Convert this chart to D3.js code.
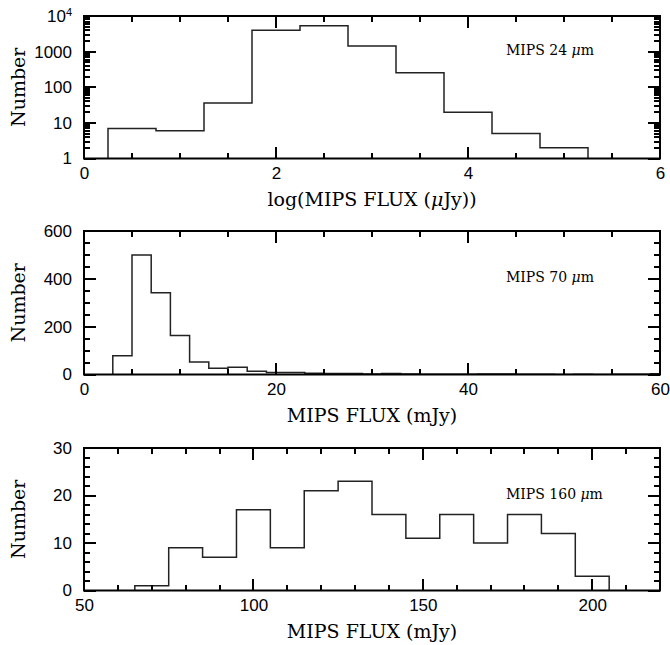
<!DOCTYPE html>
<html>
<head>
<meta charset="utf-8">
<script src="https://cdn.jsdelivr.net/npm/d3@7"></script>
<style>
body { margin: 0; background: #fff; }
</style>
</head>
<body>
<svg width="670" height="645"></svg>
<script>
// MIPS 24 um: histogram of log flux (uJy)
const edges24 = [0.25, 0.75, 1.25, 1.75, 2.25, 2.75, 3.25, 3.75, 4.25, 4.75, 5.25];
const counts24 = [7, 6, 36, 4000, 5300, 1450, 255, 20, 5, 2];
const xTicks24 = [0, 2, 4, 6];
const yTicks24 = [1, 10, 100, 1000, 10000];

// MIPS 70 um: flux in mJy
const edges70 = [3, 5, 7, 9, 11, 13, 15, 17, 19, 21, 23, 25, 27, 29, 31, 33, 35, 37, 39, 41, 43, 45, 47, 49, 51, 53, 55, 57, 59, 61];
const counts70 = [78, 500, 342, 163, 52, 26, 30, 14, 8, 8, 5, 4, 4, 2, 4, 2, 1, 1, 1, 2, 2, 1, 1, 0, 1, 0, 1, 1, 3];
const xTicks70 = [0, 20, 40, 60];
const yTicks70 = [0, 200, 400, 600];

// MIPS 160 um: flux in mJy
const edges160 = [65, 75, 85, 95, 105, 115, 125, 135, 145, 155, 165, 175, 185, 195, 205];
const counts160 = [1, 9, 7, 17, 9, 21, 23, 16, 11, 16, 10, 16, 12, 3];
const xTicks160 = [50, 100, 150, 200];
const yTicks160 = [0, 10, 20, 30];

const svg = d3.select("svg");
const left = 84, right = 660;
const serif = "DejaVu Serif, Liberation Serif, serif";
const sans = "Liberation Sans, Arial, sans-serif";

function drawPanel(cfg) {
  const top = cfg.top, bottom = cfg.bottom;
  const x = d3.scaleLinear().domain(cfg.xDomain).range([left, right]);
  const y = cfg.log
    ? d3.scaleLog().domain(cfg.yDomain).range([bottom, top])
    : d3.scaleLinear().domain(cfg.yDomain).range([bottom, top]);

  const clipId = "clip" + cfg.id;
  svg.append("clipPath").attr("id", clipId)
    .append("rect").attr("x", left).attr("y", top)
    .attr("width", right - left).attr("height", bottom - top);

  // histogram outline
  const base = cfg.yDomain[0];
  const pts = [[cfg.edges[0], base]];
  cfg.counts.forEach((c, i) => {
    pts.push([cfg.edges[i], c]);
    pts.push([cfg.edges[i + 1], c]);
  });
  pts.push([cfg.edges[cfg.edges.length - 1], base]);
  const line = d3.line().x(d => x(d[0])).y(d => y(Math.max(d[1], base)));
  svg.append("path")
    .attr("clip-path", `url(#${clipId})`)
    .attr("d", line(pts))
    .attr("fill", "none")
    .attr("stroke", "#222")
    .attr("stroke-width", 1.5);

  const xMinor = d3.range(cfg.xDomain[0], cfg.xDomain[1] + 1e-9, cfg.xMinorStep)
    .filter(v => !cfg.xTicks.includes(v));
  const yMinor = cfg.log
    ? y.ticks().filter(v => !cfg.yTicks.includes(v))
    : d3.range(cfg.yDomain[0], cfg.yDomain[1] + 1e-9, cfg.yMinorStep)
        .filter(v => !cfg.yTicks.includes(v));

  const minorLen = 6, majorLen = 12;
  const xt = xMinor.map(v => [v, minorLen]).concat(cfg.xTicks.map(v => [v, majorLen]));
  const yt = yMinor.map(v => [v, minorLen]).concat(cfg.yTicks.map(v => [v, majorLen]));

  // inward ticks on all four sides, drawn as small filled rects
  const tk = svg.append("g").attr("fill", "#000").attr("shape-rendering", "crispEdges");
  tk.selectAll(null).data(xt).join("rect")
    .attr("x", d => Math.round(x(d[0])) - 1).attr("width", 2)
    .attr("y", d => bottom - d[1]).attr("height", d => d[1]);
  tk.selectAll(null).data(xt).join("rect")
    .attr("x", d => Math.round(x(d[0])) - 1).attr("width", 2)
    .attr("y", top).attr("height", d => d[1]);
  tk.selectAll(null).data(yt).join("rect")
    .attr("y", d => Math.round(y(d[0])) - 1).attr("height", 2)
    .attr("x", left).attr("width", d => d[1]);
  tk.selectAll(null).data(yt).join("rect")
    .attr("y", d => Math.round(y(d[0])) - 1).attr("height", 2)
    .attr("x", d => right - d[1]).attr("width", d => d[1]);

  // tick labels via axes with no tick lines
  const xa = svg.append("g").attr("transform", `translate(0,${bottom})`)
    .call(d3.axisBottom(x).tickValues(cfg.xTicks).tickSize(0).tickPadding(8)
      .tickFormat(d3.format("d")));
  const ya = svg.append("g").attr("transform", `translate(${left},0)`)
    .call(d3.axisLeft(y).tickValues(cfg.yTicks).tickSize(0).tickPadding(12)
      .tickFormat(d => (d === 10000 ? "10" : d3.format("d")(d))));
  [xa, ya].forEach(a => {
    a.select(".domain").remove();
    a.selectAll(".tick line").remove();
    a.selectAll("text")
      .attr("font-family", sans)
      .attr("font-size", 17)
      .attr("fill", "#000");
  });
  // 10^4 label gets a superscript
  ya.selectAll("text").filter(d => d === 10000)
    .append("tspan").attr("dy", "-0.5em").attr("font-size", 11).text("4");

  // frame
  svg.append("rect")
    .attr("x", left).attr("y", top)
    .attr("width", right - left).attr("height", bottom - top)
    .attr("fill", "none").attr("stroke", "#000").attr("stroke-width", 2);

  // axis titles
  svg.append("text")
    .attr("x", (left + right) / 2).attr("y", bottom + 47)
    .attr("text-anchor", "middle")
    .attr("font-family", serif)
    .attr("font-size", 19)
    .html(cfg.xLabel);
  svg.append("text")
    .attr("transform", `translate(18,${(top + bottom) / 2}) rotate(-90)`)
    .attr("dy", "0.35em")
    .attr("text-anchor", "middle")
    .attr("font-family", serif)
    .attr("font-size", 19)
    .text("Number");

  // band annotation
  const note = svg.append("text")
    .attr("x", 506).attr("y", cfg.noteY)
    .attr("dy", "0.35em")
    .attr("font-family", serif)
    .attr("font-size", 14);
  note.append("tspan").text(cfg.note + " ");
  note.append("tspan").attr("font-style", "italic").text("\u03bc");
  note.append("tspan").text("m");
}

drawPanel({
  id: 24, top: 16, bottom: 158.5, log: true,
  xDomain: [0, 6], yDomain: [1, 10000], xMinorStep: 0.5,
  edges: edges24, counts: counts24, xTicks: xTicks24, yTicks: yTicks24,
  xLabel: "log(MIPS FLUX (<tspan font-style='italic'>\u03bc</tspan>Jy))",
  note: "MIPS 24", noteY: 50
});

drawPanel({
  id: 70, top: 231, bottom: 374.5, log: false,
  xDomain: [0, 60], yDomain: [0, 600], xMinorStep: 5, yMinorStep: 50,
  edges: edges70, counts: counts70, xTicks: xTicks70, yTicks: yTicks70,
  xLabel: "MIPS FLUX (mJy)",
  note: "MIPS 70", noteY: 277
});

drawPanel({
  id: 160, top: 448, bottom: 590.5, log: false,
  xDomain: [50, 220], yDomain: [0, 30], xMinorStep: 10, yMinorStep: 2,
  edges: edges160, counts: counts160, xTicks: xTicks160, yTicks: yTicks160,
  xLabel: "MIPS FLUX (mJy)",
  note: "MIPS 160", noteY: 494
});
</script>
</body>
</html>
